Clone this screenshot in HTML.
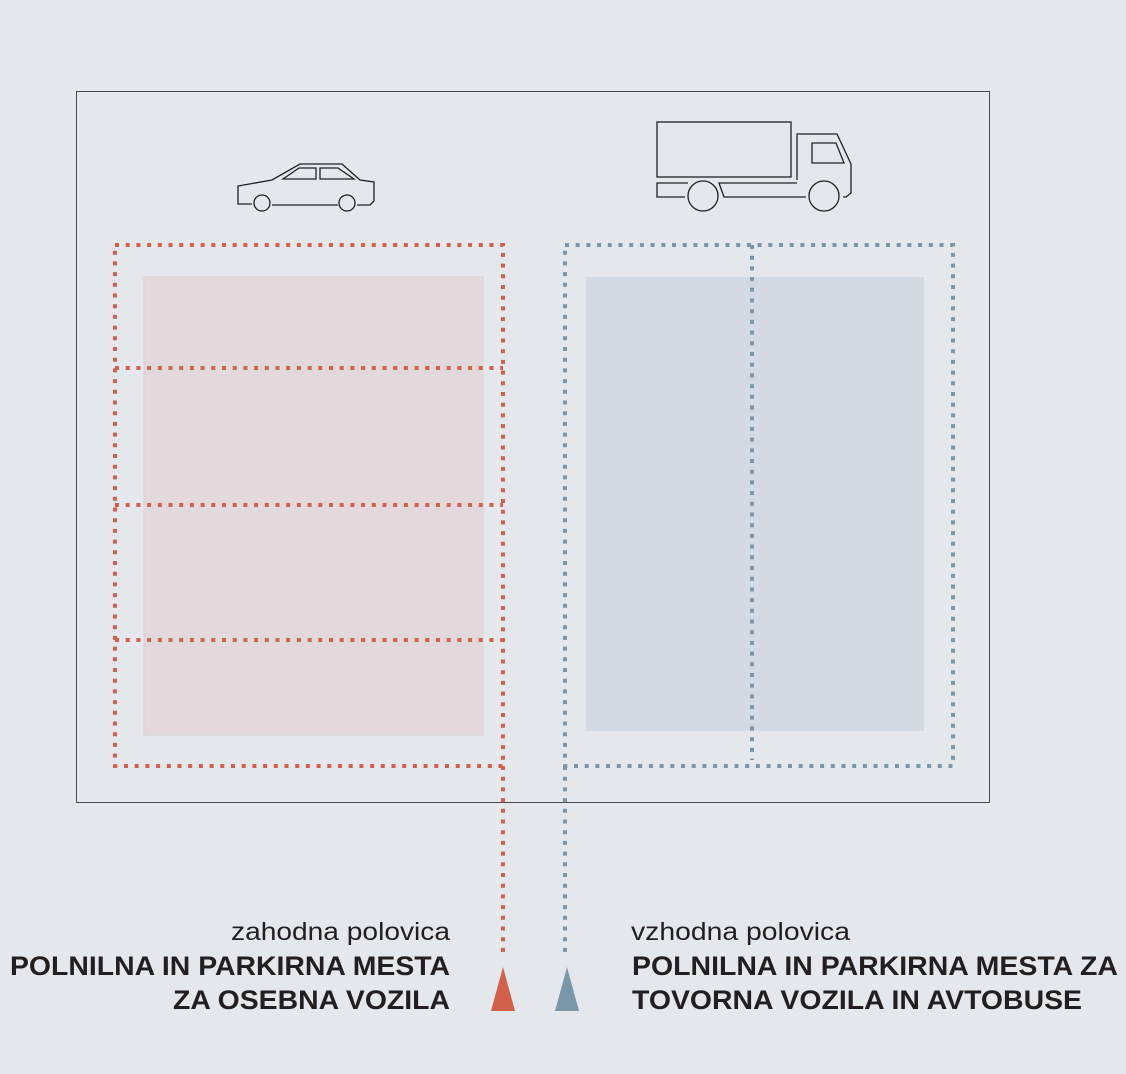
<!DOCTYPE html>
<html><head><style>
body{margin:0;background:#e4e7eb;}
svg{display:block}
text{font-family:"Liberation Sans",Arial,sans-serif;fill:#231f20}
</style></head><body>
<svg width="1126" height="1074" viewBox="0 0 1126 1074">
<rect width="1126" height="1074" fill="#e4e7eb"/>
<rect x="76.5" y="91.5" width="913" height="711" fill="none" stroke="#4a4a4a" stroke-width="1"/>
<rect x="144" y="277" width="339" height="458" fill="#e3d9dc" stroke="#d9d2d6"/>
<rect x="586" y="277" width="338" height="454" fill="#d3dae2"/>
<g fill="none" stroke="#d2604a" stroke-width="4" stroke-dasharray="4 6.7">
<rect x="115" y="245" width="388" height="521"/>
<line x1="115" y1="368" x2="503" y2="368"/>
<line x1="115" y1="505" x2="503" y2="505"/>
<line x1="115" y1="640" x2="503" y2="640"/>
<line x1="503" y1="766" x2="503" y2="952"/>
</g>
<g fill="none" stroke="#7a96ab" stroke-width="4" stroke-dasharray="4 6.7">
<rect x="565" y="245" width="388" height="521"/>
<line x1="752" y1="245" x2="752" y2="760"/>
<line x1="565" y1="766" x2="565" y2="952"/>
</g>
<!-- car -->
<g fill="none" stroke="#231f20" stroke-width="1.3">
<path d="M252 204 H238 V186 L272 180 L300 164 H342 L360 180 L374 182 V201 L370 205 H357 M338 205 H272"/>
<circle cx="262" cy="203" r="8"/><circle cx="347" cy="203" r="8"/>
<path d="M283 179 L299 168 H316 V179 Z M320 168 H338 L354 179 H320 Z"/>
</g>
<!-- truck -->
<g fill="none" stroke="#231f20" stroke-width="1.3">
<rect x="657" y="122" width="134" height="55"/>
<path d="M797 180 V134 H837 L851 164 V193 L846 197 H843 M806 197 H724 L719 183 H797"/>
<path d="M685 197 H657 V183 H688"/>
<path d="M812 143 H836 L844 163 H812 Z"/>
<circle cx="703" cy="196" r="15"/><circle cx="824" cy="196" r="15"/>
</g>
<polygon points="503,967 491,1011 515,1011" fill="#d2604a"/>
<polygon points="567,967 555,1011 579,1011" fill="#7a96ab"/>
<text x="231" y="940" font-size="25" font-weight="300" textLength="219" lengthAdjust="spacingAndGlyphs">zahodna polovica</text>
<text x="10" y="975" font-size="27" font-weight="bold" textLength="440" lengthAdjust="spacingAndGlyphs">POLNILNA IN PARKIRNA MESTA</text>
<text x="173" y="1009" font-size="27" font-weight="bold" textLength="277" lengthAdjust="spacingAndGlyphs">ZA OSEBNA VOZILA</text>
<text x="631" y="940" font-size="25" font-weight="300" textLength="219" lengthAdjust="spacingAndGlyphs">vzhodna polovica</text>
<text x="632" y="975" font-size="27" font-weight="bold" textLength="486" lengthAdjust="spacingAndGlyphs">POLNILNA IN PARKIRNA MESTA ZA</text>
<text x="632" y="1009" font-size="27" font-weight="bold" textLength="450" lengthAdjust="spacingAndGlyphs">TOVORNA VOZILA IN AVTOBUSE</text>
</svg>
</body></html>
